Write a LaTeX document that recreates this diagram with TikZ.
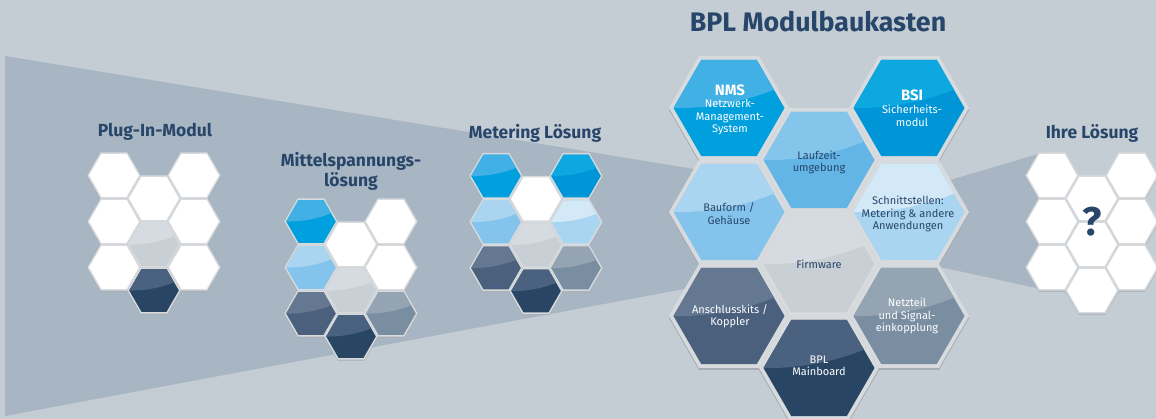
\documentclass[tikz,border=0pt]{standalone}
\usepackage{fontspec}
\setmainfont{Fira Sans}
\definecolor{bg}{HTML}{C5CDD4}
\definecolor{band}{HTML}{A8B5C2}
\definecolor{titlec}{HTML}{27466A}
\definecolor{hexrim}{HTML}{D8DBDE}
\definecolor{hexshadow}{HTML}{A6ACB3}
\definecolor{nmsT}{HTML}{40B0E5}
\definecolor{nmsB}{HTML}{00A0DF}
\definecolor{bsiT}{HTML}{0CA8DF}
\definecolor{bsiB}{HTML}{0095D7}
\definecolor{lzT}{HTML}{84C5EC}
\definecolor{lzB}{HTML}{62B5E5}
\definecolor{bfT}{HTML}{A9D5F1}
\definecolor{bfB}{HTML}{84C4EC}
\definecolor{snT}{HTML}{D4E9F8}
\definecolor{snB}{HTML}{A9D5F1}
\definecolor{fwT}{HTML}{D5DBE0}
\definecolor{fwB}{HTML}{C8CFD5}
\definecolor{akT}{HTML}{647892}
\definecolor{akB}{HTML}{4A607D}
\definecolor{mbT}{HTML}{4A6180}
\definecolor{mbB}{HTML}{284563}
\definecolor{ntT}{HTML}{94A4B3}
\definecolor{ntB}{HTML}{7A8EA2}
\newcommand\hexshape[1]{(0:{#1}) -- (60:{#1}) -- (120:{#1}) -- (180:{#1}) -- (240:{#1}) -- (300:{#1}) -- cycle}
% center x, center y, R, rim, top colour, bottom colour, shadow shift
\newcommand\hexcell[7]{%
 \begin{scope}[shift={(#1,#2)}]
  \begin{scope}[yshift=-#7]\fill[hexshadow] \hexshape{#3};\end{scope}
  \fill[hexrim] \hexshape{#3};
  \begin{scope}
   \clip \hexshape{#3-#4};
   \fill[#6] (-#3,-#3) rectangle (#3,#3);
   \fill[#5] (-#3,-#3) -- (-#3,0) .. controls (-0.3*#3,0.02*#3) and (0.4*#3,-0.12*#3) .. (#3,-0.42*#3) -- (#3,-#3) -- cycle;
  \end{scope}
 \end{scope}}
\newcommand\bighex[4]{\hexcell{#1}{#2}{60}{4.5}{#3}{#4}{2pt}}
\newcommand\smallhex[4]{\hexcell{#1}{#2}{26.6}{1.8}{#3}{#4}{1pt}}
\tikzset{
 heading/.style={font=\fontsize{17.5}{20}\selectfont\bfseries, text=titlec, align=center, inner sep=0pt},
 hexlabel/.style={font=\fontsize{11}{12.5}\selectfont, align=center, inner sep=0pt},
 darklabel/.style={hexlabel, text=titlec},
 lightlabel/.style={hexlabel, text=white},
 abbrev/.style={font=\fontsize{15}{17}\selectfont\bfseries, text=white, inner sep=0pt}
}
\begin{document}
\begin{tikzpicture}[x=1pt,y=-1pt]
\useasboundingbox (0,0) rectangle (1156,419);
\fill[bg] (0,0) rectangle (1156,419);
\fill[band] (5,56) -- (700,170) -- (950,180) -- (1045,152) -- (1045,290) -- (945,268) -- (700,286) -- (5,416) -- cycle;

% title
\node[heading, font=\fontsize{26.8}{30}\selectfont\bfseries] (title) at (818,22) {BPL Modulbaukasten};

% big cluster
\bighex{729}{108}{nmsT}{nmsB}
\bighex{909}{108}{bsiT}{bsiB}
\bighex{819}{160}{lzT}{lzB}
\bighex{729}{212}{bfT}{bfB}
\bighex{909}{212}{snT}{snB}
\bighex{819}{264}{fwT}{fwB}
\bighex{729}{316}{akT}{akB}
\bighex{909}{316}{ntT}{ntB}
\bighex{819}{368}{mbT}{mbB}

\node[abbrev] (nms) at (730,90) {NMS};
\node[lightlabel] (nmstext) at (730,117.5) {Netzwerk-\\Management-\\System};
\node[abbrev] (bsi) at (912,95) {BSI};
\node[lightlabel] (bsitext) at (912,116) {Sicherheits-\\modul};
\node[darklabel] (lz) at (819,162.5) {Laufzeit-\\umgebung};
\node[darklabel] (bf) at (729,213.5) {Bauform /\\Gehäuse};
\node[darklabel] (sn) at (908,214) {Schnittstellen:\\Metering \& andere\\Anwendungen};
\node[darklabel] (fw) at (819,264) {Firmware};
\node[lightlabel] (ak) at (730,316) {Anschlusskits /\\Koppler};
\node[lightlabel] (nt) at (907,316) {Netzteil\\und Signal-\\einkopplung};
\node[lightlabel] (mb) at (819,366) {BPL\\Mainboard};

% Plug-In-Modul cluster
\node[heading] (plugin) at (155,132) {Plug-In-Modul};
\smallhex{114}{175.5}{white}{white}
\smallhex{194}{175.5}{white}{white}
\smallhex{154}{198.5}{white}{white}
\smallhex{114}{221.5}{white}{white}
\smallhex{194}{221.5}{white}{white}
\smallhex{154}{244.5}{fwT}{fwB}
\smallhex{114}{267.5}{white}{white}
\smallhex{194}{267.5}{white}{white}
\smallhex{154}{290.5}{mbT}{mbB}

% Mittelspannungsloesung cluster
\node[heading] (mittel) at (351,171) {Mittelspannungs-\\lösung};
\smallhex{311}{221.5}{nmsT}{nmsB}
\smallhex{391}{221.5}{white}{white}
\smallhex{351}{244.5}{white}{white}
\smallhex{311}{267.5}{bfT}{bfB}
\smallhex{391}{267.5}{white}{white}
\smallhex{351}{290.5}{fwT}{fwB}
\smallhex{311}{313.5}{akT}{akB}
\smallhex{391}{313.5}{ntT}{ntB}
\smallhex{351}{336.5}{mbT}{mbB}

% Metering Loesung cluster
\node[heading] (metering) at (535,133) {Metering Lösung};
\smallhex{496}{176}{nmsT}{nmsB}
\smallhex{576}{176}{bsiT}{bsiB}
\smallhex{536}{199}{white}{white}
\smallhex{496}{222}{bfT}{bfB}
\smallhex{576}{222}{snT}{snB}
\smallhex{536}{245}{fwT}{fwB}
\smallhex{496}{268}{akT}{akB}
\smallhex{576}{268}{ntT}{ntB}
\smallhex{536}{291}{mbT}{mbB}

% Ihre Loesung cluster
\node[heading] (ihre) at (1092,133) {Ihre Lösung};
\smallhex{1052}{175.5}{white}{white}
\smallhex{1132}{175.5}{white}{white}
\smallhex{1092}{198.5}{white}{white}
\smallhex{1052}{221.5}{white}{white}
\smallhex{1132}{221.5}{white}{white}
\smallhex{1092}{244.5}{white}{white}
\smallhex{1052}{267.5}{white}{white}
\smallhex{1132}{267.5}{white}{white}
\smallhex{1092}{290.5}{white}{white}
\node[font=\fontsize{40}{44}\selectfont\bfseries, text=titlec, inner sep=0pt] (question) at (1092,222) {?};
\end{tikzpicture}
\end{document}
